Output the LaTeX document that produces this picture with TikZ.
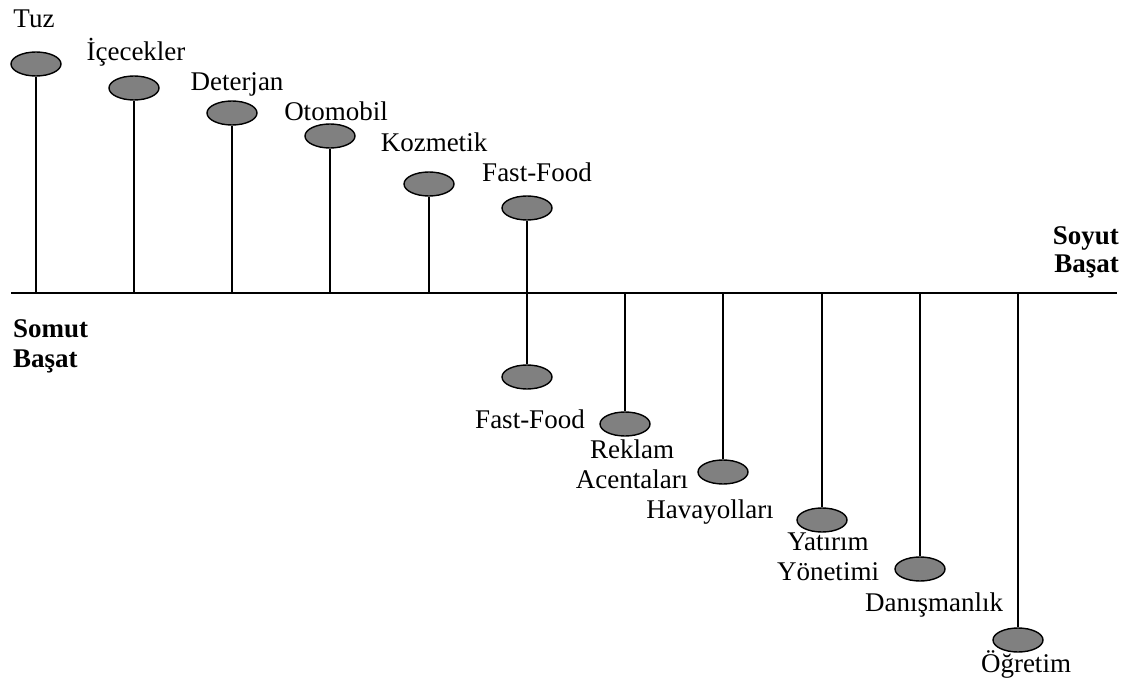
\documentclass[tikz,border=0pt]{standalone}
\usepackage{fontspec}
\setmainfont{Liberation Serif}
\usetikzlibrary{shapes.geometric}
\begin{document}
\begin{tikzpicture}[x=1pt,y=-1pt,
  brand/.style={ellipse,draw=black,line width=1.4pt,fill=black!50,
                minimum width=50pt,minimum height=24pt,inner sep=0pt},
  stem/.style={line width=1.7pt},
  axis/.style={line width=1.7pt},
  lbl/.style={inner sep=0pt,anchor=base,font=\fontsize{27}{30}\selectfont},
  pole/.style={inner sep=0pt,anchor=base,font=\fontsize{27}{30}\selectfont\bfseries}]
\useasboundingbox (0,0) rectangle (1132,679);

% axis from concrete to abstract dominance
\coordinate (L) at (11,293);
\coordinate (M) at (563,293);
\coordinate (R) at (1117,293);
\draw[axis] (L) -- (M) -- (R);

% points on the axis
\foreach \n/\x in {a1/36,a2/134,a3/232,a4/330,a5/429,a6/527,
                   b1/527,b2/625,b3/723,b4/822,b5/920,b6/1018}
  \coordinate (\n) at (\x,293);

% products above the axis
\node[brand] (tuz) at (36,64) {};
\node[brand] (icecek) at (134,88) {};
\node[brand] (deterjan) at (232,113) {};
\node[brand] (otomobil) at (330,136) {};
\node[brand] (kozmetik) at (429,184) {};
\node[brand] (ffup) at (527,208) {};

% services below the axis
\node[brand] (ffdown) at (527,377) {};
\node[brand] (reklam) at (625,424) {};
\node[brand] (hava) at (723,472) {};
\node[brand] (yatirim) at (822,520) {};
\node[brand] (danis) at (920,569) {};
\node[brand] (ogretim) at (1018,640) {};

% stems
\draw[stem] (a1) -- (tuz.south);
\draw[stem] (a2) -- (icecek.south);
\draw[stem] (a3) -- (deterjan.south);
\draw[stem] (a4) -- (otomobil.south);
\draw[stem] (a5) -- (kozmetik.south);
\draw[stem] (a6) -- (ffup.south);
\draw[stem] (b1) -- (ffdown.north);
\draw[stem] (b2) -- (reklam.north);
\draw[stem] (b3) -- (hava.north);
\draw[stem] (b4) -- (yatirim.north);
\draw[stem] (b5) -- (danis.north);
\draw[stem] (b6) -- (ogretim.north);

% labels (for two-line labels the base anchor sits on the last line)
\node[lbl] (tTuz) at (34,28) {Tuz};
\node[lbl] (tIce) at (136,61) {İçecekler};
\node[lbl] (tDet) at (237,91) {Deterjan};
\node[lbl] (tOto) at (336,121) {Otomobil};
\node[lbl] (tKoz) at (434,152) {Kozmetik};
\node[lbl] (tFF1) at (537,182) {Fast-Food};
\node[lbl] (tFF2) at (530,428) {Fast-Food};
\node[lbl,align=center] (tRek) at (632,488) {Reklam\\Acentaları};
\node[lbl] (tHav) at (710,518) {Havayolları};
\node[lbl,align=center] (tYat) at (828,580) {Yatırım\\Yönetimi};
\node[lbl] (tDan) at (934,611) {Danışmanlık};
\node[lbl] (tOgr) at (1026,672) {Öğretim};

% poles of the axis
\node[pole,align=left,anchor=base west] (somut) at (13,367) {Somut\\Başat};
\node[pole,align=right,anchor=base east,font=\fontsize{27}{28}\selectfont\bfseries] (soyut) at (1119,272) {Soyut\\Başat};
\end{tikzpicture}
\end{document}
